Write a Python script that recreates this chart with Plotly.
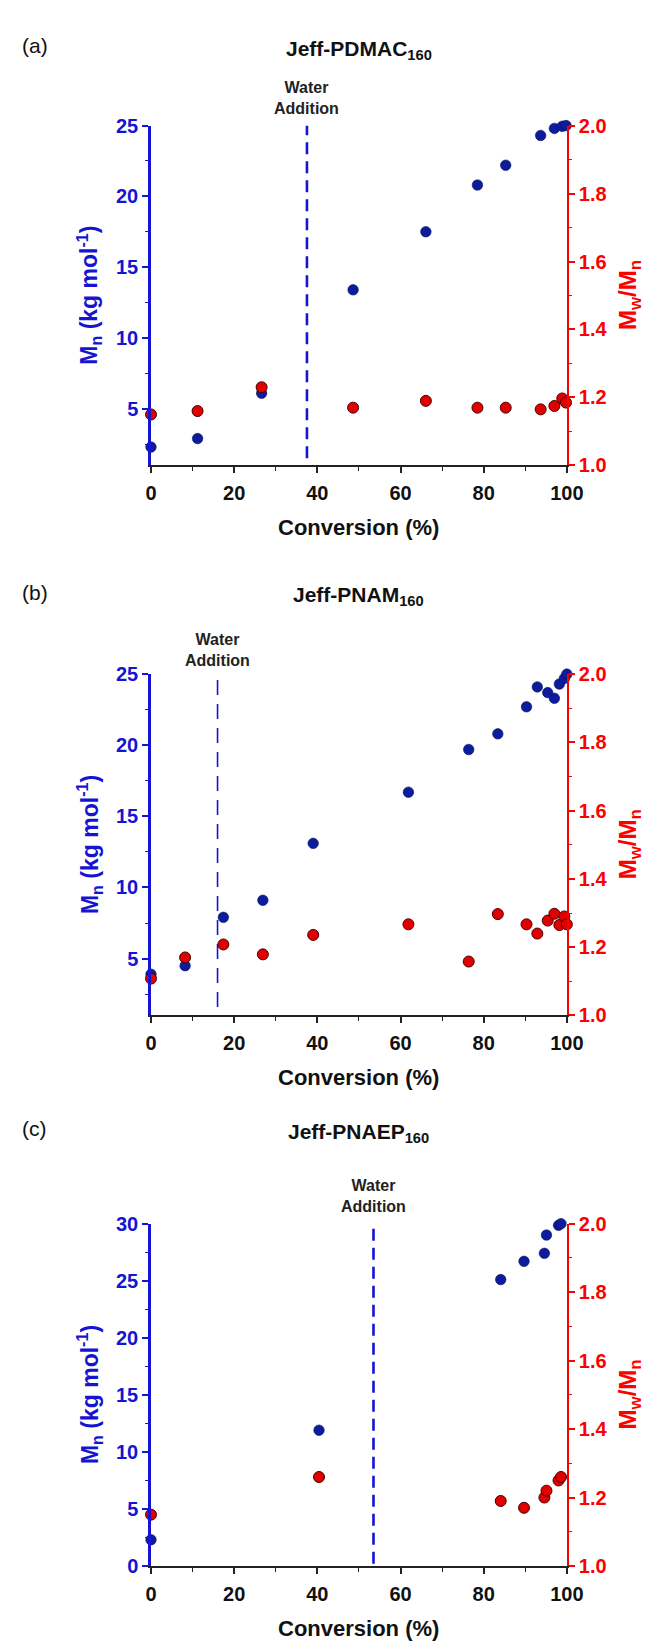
import plotly.graph_objects as go

# ---------------- data ----------------
panel_labels = ["(a)", "(b)", "(c)"]
panel_titles = ["Jeff-PDMAC<sub>160</sub>", "Jeff-PNAM<sub>160</sub>", "Jeff-PNAEP<sub>160</sub>"]

conv_a = [0, 11.2, 26.6, 48.6, 66.1, 78.5, 85.3, 93.7, 97.0, 98.9, 99.8]
mn_a = [2.3, 2.9, 6.1, 13.4, 17.5, 20.8, 22.2, 24.3, 24.8, 24.95, 25.0]
pdi_a = [1.15, 1.16, 1.23, 1.17, 1.19, 1.17, 1.17, 1.165, 1.175, 1.197, 1.185]

conv_b = [0, 8.2, 17.4, 26.9, 39.0, 61.9, 76.4, 83.4, 90.3, 92.9, 95.4, 97.0, 98.2, 99.4, 100]
mn_b = [3.9, 4.5, 7.9, 9.1, 13.1, 16.7, 19.7, 20.8, 22.7, 24.1, 23.7, 23.3, 24.3, 24.7, 25.0]
pdi_b = [1.108, 1.17, 1.208, 1.179, 1.236, 1.267, 1.158, 1.297, 1.267, 1.24, 1.278, 1.298, 1.265, 1.29, 1.267]

conv_c = [0, 40.4, 84.1, 89.7, 94.6, 95.1, 98.0, 98.6]
mn_c = [2.3, 11.9, 25.1, 26.7, 27.4, 29.0, 29.85, 30.0]
pdi_c = [1.15, 1.26, 1.19, 1.17, 1.20, 1.22, 1.25, 1.26]

water_x = [37.5, 16.0, 53.5]
water_y = [[1.5, 25], [1.6, 25], [0.2, 30]]

mn_ranges = [[1, 25], [1, 25], [0, 30]]
pdi_range = [1.0, 2.0]
x_range = [0, 100]

# ---------------- style ----------------
BLUE_AX = "#1414d2"
BLUE_PT = "#0c1c9c"
RED = "#ff0000"
RED_PT = "#e00000"
FONT = "Liberation Sans"

W, H = 654, 1643
xdom = [142 / W, 573 / W]
ydoms = [
    [1 - 452.5 / H, 1 - 108 / H],
    [1 - 1010 / H, 1 - 664 / H],
    [1 - 1568 / H, 1 - 1221 / H],
]
title_y_px = [31, 585, 1129]
water_y_px = [80, 640, 1193]
dash_styles = [(2.6, "12px,7px"), (1.6, "15px,9px"), (2.6, "12px,7px")]

fig = go.Figure()
layout = dict(
    width=W, height=H,
    margin=dict(l=0, r=0, t=0, b=0),
    paper_bgcolor="white", plot_bgcolor="white",
    showlegend=False,
    font=dict(family=FONT),
)
annotations = []

datasets = [(conv_a, mn_a, pdi_a), (conv_b, mn_b, pdi_b), (conv_c, mn_c, pdi_c)]

for i, (cv, mn, pdi) in enumerate(datasets):
    xa = "x" if i == 0 else f"x{i + 1}"
    ya_l = f"y{2 * i + 1}" if i > 0 else "y"
    ya_r = f"y{2 * i + 2}"
    xkey = "xaxis" if i == 0 else f"xaxis{i + 1}"
    ykey_l = "yaxis" if i == 0 else f"yaxis{2 * i + 1}"
    ykey_r = f"yaxis{2 * i + 2}"

    # water addition line
    lw, dash = dash_styles[i]
    fig.add_trace(go.Scatter(
        x=[water_x[i], water_x[i]], y=water_y[i], xaxis=xa, yaxis=ya_l,
        mode="lines", line=dict(color=BLUE_AX, width=lw, dash=dash),
        hoverinfo="skip"))
    # Mn points
    fig.add_trace(go.Scatter(
        x=cv, y=mn, xaxis=xa, yaxis=ya_l, mode="markers", cliponaxis=False,
        marker=dict(size=10.5, color=BLUE_PT, line=dict(width=0.6, color="#08105a"))))
    # PDI points
    fig.add_trace(go.Scatter(
        x=cv, y=pdi, xaxis=xa, yaxis=ya_r, mode="markers", cliponaxis=False,
        marker=dict(size=11, color=RED_PT, line=dict(width=1, color="#4a0000"))))

    layout[xkey] = dict(
        domain=xdom, anchor=ya_l, range=x_range,
        showgrid=False, zeroline=False,
        showline=True, linecolor="#222222", linewidth=2,
        ticks="outside", ticklen=6, tickwidth=1.5, tickcolor="#222222",
        dtick=20, tick0=0, ticklabelstandoff=3,
        minor=dict(ticks="outside", ticklen=3.5, tickwidth=1.2, tickcolor="#222222", dtick=10),
        tickfont=dict(family=FONT, size=20, color="#111111", weight="bold"),
    )
    mr = mn_ranges[i]
    layout[ykey_l] = dict(
        domain=ydoms[i], anchor=xa, range=mr,
        showgrid=False, zeroline=False,
        showline=True, linecolor=BLUE_AX, linewidth=2.5,
        ticks="outside", ticklen=6, tickwidth=1.5, tickcolor=BLUE_AX,
        tick0=0, dtick=5,
        minor=dict(ticks="outside", ticklen=3.5, tickwidth=1.2, tickcolor=BLUE_AX, dtick=2.5),
        tickfont=dict(family=FONT, size=20, color=BLUE_AX, weight="bold"),
    )
    layout[ykey_r] = dict(
        domain=ydoms[i], anchor=xa, overlaying=ya_l, side="right", range=pdi_range,
        showgrid=False, zeroline=False,
        showline=True, linecolor=RED, linewidth=2,
        ticks="outside", ticklen=6, tickwidth=1.5, tickcolor=RED,
        tick0=1.0, dtick=0.2, tickformat=".1f",
        minor=dict(ticks="outside", ticklen=3.5, tickwidth=1.2, tickcolor=RED, dtick=0.1),
        tickfont=dict(family=FONT, size=20, color=RED, weight="bold"),
    )

    ybot_px = (1 - ydoms[i][0]) * H
    ymid = (ydoms[i][0] + ydoms[i][1]) / 2
    xmid = (xdom[0] + xdom[1]) / 2

    # panel letter and title
    annotations.append(dict(
        text=panel_labels[i], xref="paper", yref="paper", x=6 / W, y=1 - (title_y_px[i] - 4) / H,
        xanchor="left", yanchor="middle", showarrow=False,
        font=dict(family=FONT, size=21, color="#111111")))
    annotations.append(dict(
        text=panel_titles[i], xref="paper", yref="paper", x=xmid, y=1 - title_y_px[i] / H,
        xanchor="center", yanchor="middle", showarrow=False,
        font=dict(family=FONT, size=21, color="#111111", weight="bold")))
    # water addition label
    annotations.append(dict(
        text="Water<br>Addition", xref=xa, yref="paper", x=water_x[i], y=1 - water_y_px[i] / H,
        xanchor="center", yanchor="middle", showarrow=False,
        font=dict(family=FONT, size=16, color="#222222", weight="bold")))
    # axis titles
    annotations.append(dict(
        text="Conversion (%)", xref="paper", yref="paper", x=xmid, y=1 - (ybot_px + 63) / H,
        xanchor="center", yanchor="middle", showarrow=False,
        font=dict(family=FONT, size=22, color="#111111", weight="bold")))
    annotations.append(dict(
        text="M<sub>n</sub> (kg mol<sup>-1</sup>)", xref="paper", yref="paper",
        x=78 / W, y=ymid, textangle=-90,
        xanchor="center", yanchor="middle", showarrow=False,
        font=dict(family=FONT, size=23, color=BLUE_AX, weight="bold")))
    annotations.append(dict(
        text="M<sub>w</sub>/M<sub>n</sub>", xref="paper", yref="paper",
        x=638 / W, y=ymid, textangle=-90,
        xanchor="center", yanchor="middle", showarrow=False,
        font=dict(family=FONT, size=24, color=RED, weight="bold")))

layout["annotations"] = annotations
fig.update_layout(**layout)
fig.write_html("out.html")
